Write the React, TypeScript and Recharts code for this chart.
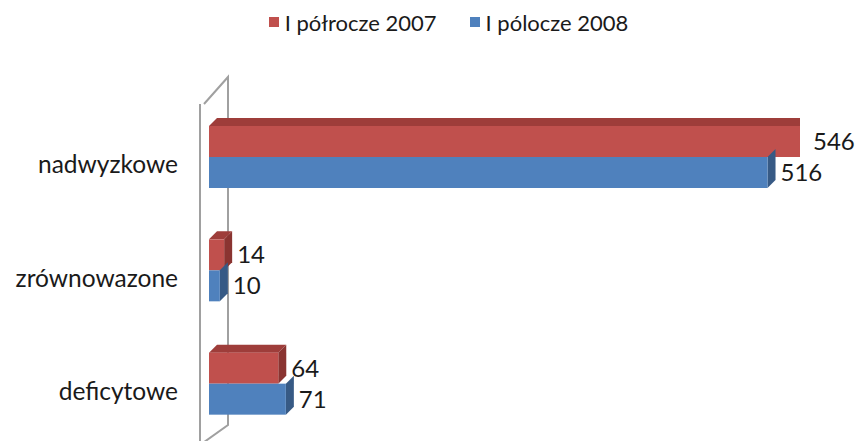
import React from 'react';
import { BarChart, Bar, XAxis, YAxis, Legend, LabelList, ReferenceLine } from 'recharts';

const categories = ['nadwyzkowe', 'zrównowazone', 'deficytowe'];
const values2007 = [546, 14, 64];
const values2008 = [516, 10, 71];
const seriesNames = ['I półrocze 2007', 'I pólocze 2008'];

const data = categories.map((name, i) => ({
  name,
  h2007: values2007[i],
  h2008: values2008[i],
}));

const FONT = 'Lato, "Open Sans", sans-serif';
const DEPTH = 8;

const palette = {
  red: { front: '#C0504D', top: '#9E3D3A', side: '#8A3431' },
  blue: { front: '#4F81BD', top: '#41699A', side: '#375A85' },
};

// front face + darker top and right side, top face optional (hidden under the bar above)
const make3DBar = (c: { front: string; top: string; side: string }, withTop: boolean) => (props: any) => {
  const { x, y, width, height } = props;
  if (width == null || height == null) return null;
  const d = DEPTH;
  return (
    <g>
      {withTop && (
        <polygon
          points={`${x},${y} ${x + d},${y - d} ${x + width + d},${y - d} ${x + width},${y}`}
          fill={c.top}
        />
      )}
      <polygon
        points={`${x + width},${y} ${x + width + d},${y - d} ${x + width + d},${y + height - d} ${x + width},${y + height}`}
        fill={c.side}
      />
      <rect x={x} y={y} width={width} height={height} fill={c.front} />
    </g>
  );
};

const Wall = (props: any) => {
  const { x1, y1, y2 } = props;
  const front = x1 - 9;
  const back = x1 + 19;
  const pts = `${front},${y2 + 4} ${front},${y1 + 5} ${back},${y1 - 15} ${back},${y2 - 23} ${front + 4},${y2 + 4}`;
  return <polyline points={pts} fill="none" stroke="#A0A0A0" strokeWidth={2} />;
};

const CategoryTick = ({ x, y, payload }: any) => (
  <text x={x - 31} y={y + 7} textAnchor="end" dominantBaseline="central" fontFamily={FONT} fontSize={24.5} fill="#1a1a1a">
    {payload.value}
  </text>
);

const LegendContent = () => (
  <div style={{ display: 'flex', justifyContent: 'center', alignItems: 'center', height: 28, paddingLeft: 40, fontFamily: FONT, fontSize: 22, color: '#1a1a1a' }}>
    {seriesNames.map((n, i) => (
      <div key={n} style={{ display: 'flex', alignItems: 'center', marginRight: i === 0 ? 33 : 0 }}>
        <span style={{ width: 10, height: 10, background: i === 0 ? palette.red.front : palette.blue.front, marginRight: 6, display: 'inline-block' }} />
        <span>{n}</span>
      </div>
    ))}
  </div>
);

export default function App() {
  return (
    <div style={{ position: 'absolute', left: 0, top: 0, background: '#fff' }}>
      <BarChart
        width={857}
        height={441}
        data={data}
        layout="vertical"
        margin={{ top: 72, right: 57, bottom: 1, left: 0 }}
        barGap={0}
        barSize={31}
      >
        <XAxis type="number" domain={[0, 546]} hide allowDataOverflow />
        <YAxis
          type="category"
          dataKey="name"
          width={209}
          axisLine={false}
          tickLine={false}
          tickSize={0}
          tickMargin={0}
          tick={<CategoryTick />}
        />
        <Legend verticalAlign="top" content={<LegendContent />} wrapperStyle={{ top: 8, left: 0, width: 857 }} />
        <ReferenceLine x={0} ifOverflow="visible" shape={<Wall />} zIndex={-10} />
        <Bar dataKey="h2007" name={seriesNames[0]} shape={make3DBar(palette.red, true)} isAnimationActive={false}>
          <LabelList dataKey="h2007" position="right" offset={13} fontFamily={FONT} fontSize={24} fill="#1a1a1a" />
        </Bar>
        <Bar dataKey="h2008" name={seriesNames[1]} shape={make3DBar(palette.blue, false)} isAnimationActive={false}>
          <LabelList dataKey="h2008" position="right" offset={13} fontFamily={FONT} fontSize={24} fill="#1a1a1a" />
        </Bar>
      </BarChart>
    </div>
  );
}
